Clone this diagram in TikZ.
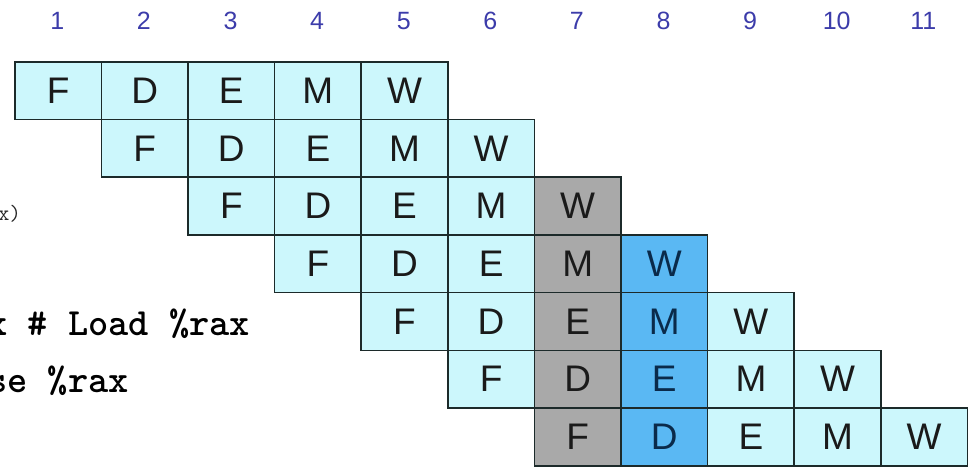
\documentclass[tikz,border=0pt]{standalone}
\usepackage{fontspec}
\setmainfont{Liberation Sans}
\definecolor{cellline}{HTML}{1C2A2A}
\definecolor{cyanfill}{HTML}{CCF7FC}
\definecolor{grayfill}{HTML}{A9A9A9}
\definecolor{bluefill}{HTML}{5AB8F3}
\definecolor{celltext}{HTML}{1A1A1A}
\definecolor{bluetext}{HTML}{0A2A4A}
\definecolor{numcol}{HTML}{3C3CAA}
\begin{document}
\begin{tikzpicture}[x=1pt,y=-1pt,
  cell/.style={draw=cellline, line width=1.6pt, minimum width=86.6pt, minimum height=57.7pt,
    inner sep=0pt, anchor=north west, font=\fontsize{37}{40}\selectfont, text=celltext},
  cyc/.style={font=\fontsize{25}{28}\selectfont, text=numcol, inner sep=0pt},
  codebold/.style={font=\ttfamily\bfseries\fontsize{38.5}{40}\selectfont, inner sep=0pt, anchor=base west, text=black},
  codesmall/.style={font=\ttfamily\fontsize{22}{24}\selectfont, inner sep=0pt, anchor=base west, text=black!85}]
\useasboundingbox (0,0) rectangle (971,466);
\foreach \c in {1,...,11} {
  \node[cyc] (n\c) at ({14+(\c-0.5)*86.6},21) {\c};
}
\foreach \r in {1,...,7} {
  \foreach [count=\s from 0] \st in {F,D,E,M,W} {
    \pgfmathtruncatemacro{\c}{\r+\s}
    \def\fillc{cyanfill}\def\txtc{celltext}
    \ifnum\c=7 \def\fillc{grayfill}\fi
    \ifnum\c=8 \def\fillc{bluefill}\def\txtc{bluetext}\fi
    \node[cell, fill=\fillc, text=\txtc] (s\r-\c) at ({14+(\c-1)*86.6},{61+(\r-1)*57.7}) {\raisebox{-3pt}{\st}};
  }
}
\node[codesmall] (t3) at (-2,220) {x)};
\node[codebold] (t5) at (-13,335) {x \# Load \%rax};
\node[codebold] (t6) at (-13,392) {se \%rax};
\end{tikzpicture}
\end{document}
